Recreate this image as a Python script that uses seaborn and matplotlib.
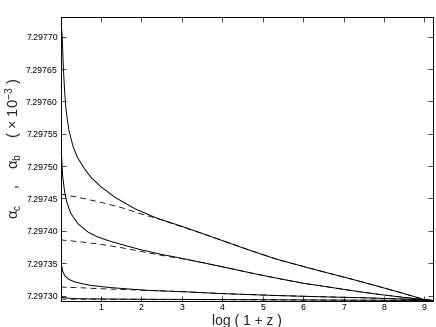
import numpy as np
import pandas as pd
import seaborn as sns
import matplotlib
matplotlib.use('Agg')
import matplotlib.pyplot as plt
from matplotlib.ticker import FormatStrFormatter

# values (alpha x 10^3 against log(1+z))
x_s1 = [0, 0.04, 0.07, 0.1, 0.13, 0.17, 0.21, 0.31, 0.42, 0.6, 0.76, 1.0, 1.34, 1.84, 2.4,
        3.0, 3.5, 4.11, 4.7, 5.35, 6.0, 6.54, 7.16, 7.78, 8.44, 9.02, 9.21]
y_s1 = [7.297731, 7.297699, 7.29765, 7.297615, 7.29759, 7.29757, 7.297554, 7.29753,
        7.297513, 7.297495, 7.297482, 7.297468, 7.297452, 7.297434, 7.297419, 7.297407,
        7.297396, 7.2973825, 7.2973695, 7.297356, 7.297345, 7.297336, 7.297326, 7.2973155,
        7.297304, 7.2972933, 7.2972923]

x_d1 = [0, 0.5, 1.0, 1.5, 2.0, 2.5, 3.0, 3.5, 4.11, 4.7, 5.35, 6.0, 6.54, 7.16, 7.78, 8.44,
        9.02, 9.21]
y_d1 = [7.297457, 7.297451, 7.297444, 7.297436, 7.297426, 7.297417, 7.297406, 7.297396,
        7.2973825, 7.2973695, 7.297356, 7.297345, 7.297336, 7.297326, 7.2973155, 7.297304,
        7.2972933, 7.2972923]

x_s2 = [0, 0.02, 0.05, 0.1, 0.15, 0.25, 0.43, 0.68, 0.9, 1.17, 1.5, 1.97, 2.5, 3.04, 3.5,
        4.11, 4.7, 5.33, 6.0, 6.54, 7.16, 7.78, 8.44, 9.02, 9.21]
y_s2 = [7.29758, 7.29752, 7.297485, 7.29746, 7.297445, 7.297427, 7.297411, 7.297398,
        7.297391, 7.297385, 7.297379, 7.297371, 7.2973635, 7.297357, 7.297351, 7.297343,
        7.297335, 7.297327, 7.297319, 7.297314, 7.297308, 7.2973025, 7.2972975, 7.2972933,
        7.2972923]

x_d2 = [0, 0.5, 1.0, 1.5, 2.0, 2.5, 3.04, 3.5, 4.11, 4.7, 5.33, 6.0, 6.54, 7.16, 7.78, 8.44,
        9.02, 9.21]
y_d2 = [7.297386, 7.297383, 7.297379, 7.297374, 7.297368, 7.297362, 7.2973565, 7.297351,
        7.297343, 7.297335, 7.297327, 7.297319, 7.297314, 7.297308, 7.2973025, 7.2972975,
        7.2972933, 7.2972923]

x_s3 = [0, 0.02, 0.05, 0.1, 0.2, 0.35, 0.55, 0.76, 1.2, 1.6, 2.16, 3.0, 4.0, 5.35, 6.5, 7.5,
        8.5, 9.02, 9.21]
y_s3 = [7.297365, 7.297348, 7.297338, 7.297331, 7.297325, 7.297321, 7.297318, 7.2973155,
        7.2973125, 7.2973105, 7.297308, 7.297306, 7.297303, 7.2973, 7.297298, 7.2972965,
        7.2972945, 7.2972933, 7.2972923]

x_d3 = [0, 0.5, 1.0, 1.5, 2.16, 3.0, 4.0, 5.35, 6.5, 7.5, 8.5, 9.02, 9.21]
y_d3 = [7.297313, 7.297312, 7.2973105, 7.2973095, 7.2973078, 7.297306, 7.297303, 7.2973,
        7.297298, 7.2972965, 7.2972945, 7.2972933, 7.2972923]

x_s4 = [0, 0.05, 0.2, 0.5, 1.0, 2.0, 4.0, 6.0, 8.0, 9.21]
y_s4 = [7.297299, 7.297297, 7.2972958, 7.297295, 7.2972947, 7.2972943, 7.2972937,
        7.2972932, 7.2972927, 7.2972923]

x_d4 = [0, 3, 6, 9.21]
y_d4 = [7.2972945, 7.2972938, 7.2972931, 7.2972923]

x_ticks = [1, 2, 3, 4, 5, 6, 7, 8, 9]
y_ticks = [7.29730, 7.29735, 7.29740, 7.29745, 7.29750, 7.29755, 7.29760, 7.29765, 7.29770]

sns.set_style('ticks')
plt.rcParams['font.family'] = ['Liberation Sans', 'DejaVu Sans']
plt.rcParams['mathtext.fontset'] = 'custom'
plt.rcParams['mathtext.rm'] = 'Liberation Sans'
plt.rcParams['mathtext.it'] = 'Liberation Sans'
plt.rcParams['mathtext.bf'] = 'Liberation Sans:bold'

fig = plt.figure(figsize=(4.36, 3.27), dpi=100)
ax = fig.add_axes([0.139, 0.081, 0.854, 0.868])

solid = [(x_s1, y_s1), (x_s2, y_s2), (x_s3, y_s3), (x_s4, y_s4)]
dashed = [(x_d1, y_d1), (x_d2, y_d2), (x_d3, y_d3), (x_d4, y_d4)]

for xs, ys in dashed:
    sns.lineplot(x=xs, y=ys, ax=ax, color='black', lw=0.6, linestyle=(0, (7, 5)),
                 estimator=None, sort=False)
for xs, ys in solid:
    sns.lineplot(x=xs, y=ys, ax=ax, color='black', lw=0.7, estimator=None, sort=False)

ax.set_xlim(0, 9.21)
ax.set_ylim(7.2972923, 7.297731)
ax.set_xticks(x_ticks)
ax.set_yticks(y_ticks)
ax.yaxis.set_major_formatter(FormatStrFormatter('%.5f'))
ax.tick_params(direction='in', length=3.5, width=0.5, labelsize=6.3, pad=2,
               top=True, right=True, colors='black')
for sp in ax.spines.values():
    sp.set_visible(True)
    sp.set_linewidth(0.7)
    sp.set_color('black')

ax.set_xlabel('log ( 1 + z )', fontsize=10, labelpad=1)
ax.set_ylabel(r'$\alpha_{c}$    ,    $\alpha_{b}$    ( $\times$ 10$^{-3}$ )', fontsize=10.5)
ax.yaxis.set_label_coords(-0.095, 0.536)

fig.savefig('out.png', dpi=100)
